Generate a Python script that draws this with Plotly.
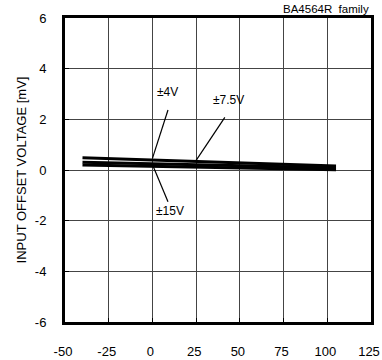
import plotly.graph_objects as go

temps = [-40, 105]
v4 = [0.48, 0.16]
v75 = [0.31, 0.09]
v15 = [0.20, 0.01]

x_ticks = [-50, -25, 0, 25, 50, 75, 100, 125]
y_ticks = [-6, -4, -2, 0, 2, 4, 6]

labels = ["±4V", "±7.5V", "±15V"]
label_pos = [(8.4, 3.08), (43.5, 2.76), (9.9, -1.62)]
leader_start = [(0, 0.46), (25, 0.38), (0, 0.22)]
leader_end = [(8.9, 2.37), (41.4, 2.08), (8.9, -1.25)]

font_family = "Liberation Sans, Arial"

fig = go.Figure()
for ys in (v4, v75, v15):
    fig.add_trace(go.Scatter(x=temps, y=ys, mode="lines",
                             line=dict(color="black", width=3), showlegend=False))
for (x0, y0), (x1, y1) in zip(leader_start, leader_end):
    fig.add_trace(go.Scatter(x=[x0, x1], y=[y0, y1], mode="lines",
                             line=dict(color="black", width=1.2), showlegend=False))
for t, (x, y) in zip(labels, label_pos):
    fig.add_annotation(x=x, y=y, text=t, showarrow=False,
                       font=dict(size=12, color="black", family=font_family))

fig.add_annotation(xref="paper", yref="paper", x=1.0, y=1.0, yshift=1,
                   xanchor="right", yanchor="bottom", text="BA4564R  family",
                   showarrow=False, font=dict(size=11.5, color="black", family=font_family))

axis_common = dict(showline=True, linecolor="black", linewidth=3, mirror=True,
                   showgrid=True, gridcolor="#444444", gridwidth=1,
                   zeroline=False, ticks="inside", ticklen=4, tickcolor="black",
                   automargin=False,
                   tickfont=dict(size=13, color="black", family=font_family))

fig.update_xaxes(range=[-50, 125], tickvals=x_ticks, ticktext=[str(v) for v in x_ticks],
                 ticklabelstandoff=15, ticklabelshift=-2, **axis_common)
fig.update_yaxes(range=[-6, 6], tickvals=y_ticks, ticktext=[str(v) for v in y_ticks],
                 ticklabelstandoff=13,
                 title=dict(text="INPUT OFFSET VOLTAGE [mV]", standoff=6,
                            font=dict(size=13, color="black", family=font_family)),
                 **axis_common)

fig.update_layout(width=382, height=360, margin=dict(l=65, r=11, t=18, b=38),
                  plot_bgcolor="white", paper_bgcolor="white")

fig.write_html("out.html", config={"displayModeBar": False},
               post_script="document.body.style.margin='0';document.body.style.overflow='hidden';")
